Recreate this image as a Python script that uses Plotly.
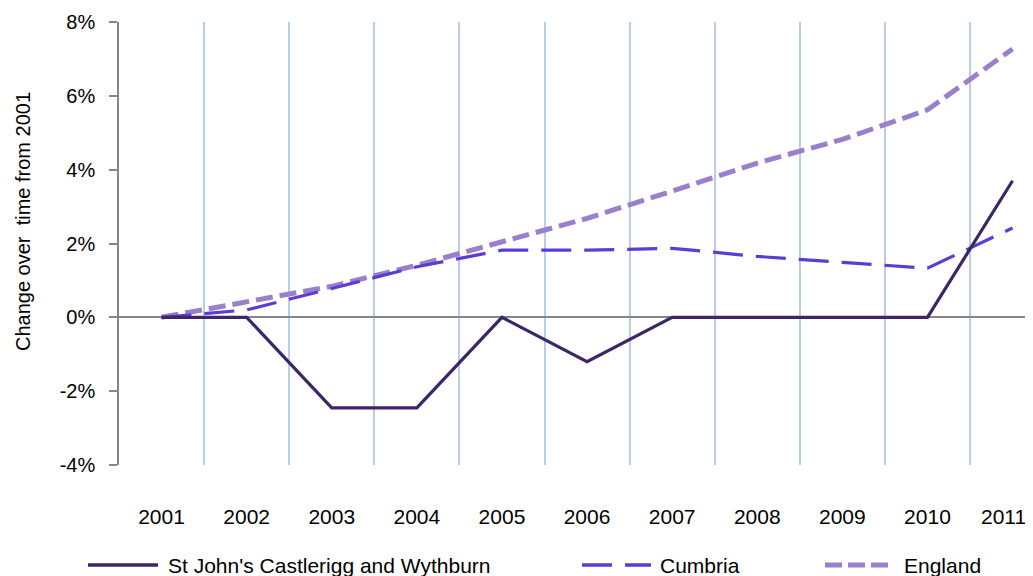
import plotly.graph_objects as go

years = ["2001", "2002", "2003", "2004", "2005", "2006", "2007", "2008", "2009", "2010", "2011"]
st_johns = [0.0, 0.0, -2.45, -2.45, 0.0, -1.2, 0.0, 0.0, 0.0, 0.0, 3.7]
cumbria = [0.0, 0.2, 0.78, 1.37, 1.82, 1.82, 1.87, 1.65, 1.49, 1.33, 2.42]
england = [0.0, 0.43, 0.84, 1.41, 2.03, 2.68, 3.42, 4.18, 4.82, 5.62, 7.27]
y_ticks = [-4, -2, 0, 2, 4, 6, 8]
y_tick_labels = ["-4%", "-2%", "0%", "2%", "4%", "6%", "8%"]

series_names = ["St John's Castlerigg and Wythburn", "Cumbria", "England"]
colors = ["#3C2668", "#5B3DD5", "#9A7FCB"]

# page body has an 8px margin: the figure is placed at (8, 8)
OFF = 8
W, H = 1033 - OFF, 576 - OFF
L, T = 119 - OFF, 22 - OFF
plot_h = 443
B = H - T - plot_h
plot_w = W - L

xs = list(range(len(years)))
FONT = "Liberation Sans, Arial, sans-serif"

# last category label is drawn as an annotation nudged left so it stays in the page
x_tick_text = years[:-1] + [""]

fig = go.Figure()
fig.add_trace(go.Scatter(x=xs, y=england, mode="lines", name=series_names[2],
                         line=dict(color=colors[2], width=5, dash="17px,7px"), showlegend=False))
fig.add_trace(go.Scatter(x=xs, y=cumbria, mode="lines", name=series_names[1],
                         line=dict(color=colors[1], width=3.2, dash="30px,13px"), showlegend=False))
fig.add_trace(go.Scatter(x=xs, y=st_johns, mode="lines", name=series_names[0],
                         line=dict(color=colors[0], width=3.2), showlegend=False))

unit = 85.1
x_end = -0.5 + plot_w / unit

fig.update_layout(
    width=W, height=H,
    margin=dict(l=L, r=0, t=T, b=B, autoexpand=False),
    paper_bgcolor="white", plot_bgcolor="white",
    font=dict(family=FONT, size=20, color="black"),
    xaxis=dict(
        range=[-0.5, x_end], tickmode="array", tickvals=xs, ticktext=x_tick_text,
        showgrid=False, zeroline=False, showline=False, ticks="",
        ticklabelstandoff=37, tickfont=dict(size=21), ticklabeloverflow="allow",
        minor=dict(tickmode="array", tickvals=[i + 0.5 for i in range(len(years) - 1)],
                   showgrid=True, gridcolor="#B9CDE5", gridwidth=1.5, ticks=""),
    ),
    yaxis=dict(
        range=[-4, 8], tickmode="array", tickvals=y_ticks, ticktext=y_tick_labels,
        showgrid=False,
        zeroline=True, zerolinecolor="#868686", zerolinewidth=1.5,
        showline=True, linecolor="#868686", linewidth=1.5,
        ticks="outside", ticklen=8, tickcolor="#868686", tickwidth=1.5,
        ticklabelstandoff=10, tickfont=dict(size=20),
    ),
)

def px_x(px):
    return (px - OFF - L) / plot_w

def px_y(py):
    return (T + plot_h - (py - OFF)) / plot_h

fig.add_annotation(xref="x", yref="paper", x=xs[-1], y=px_y(516), xshift=-9,
                   text=years[-1], showarrow=False, xanchor="center", yanchor="middle",
                   font=dict(size=21))

# y-axis title
fig.add_annotation(xref="paper", yref="paper", x=px_x(23), y=px_y(222),
                   text="Change over  time from 2001", textangle=-90, showarrow=False,
                   xanchor="center", yanchor="middle", font=dict(size=20))

# custom legend
ly = px_y(565)
legend_items = [
    (88, 158, None, 3.5, 166),
    (582, 651, "30px,13px", 3.5, 658),
    (825, 888, "17px,6px", 5, 902),
]
for i, (x0, x1, dash, w, tx) in enumerate(legend_items):
    line = dict(color=colors[i], width=w)
    if dash:
        line["dash"] = dash
    fig.add_shape(type="line", xref="paper", yref="paper",
                  x0=px_x(x0), x1=px_x(x1), y0=ly, y1=ly, line=line)
    fig.add_annotation(xref="paper", yref="paper", x=px_x(tx), y=ly,
                       text=series_names[i], showarrow=False,
                       xanchor="left", yanchor="middle", font=dict(size=21))

fig.write_html("out.html")
